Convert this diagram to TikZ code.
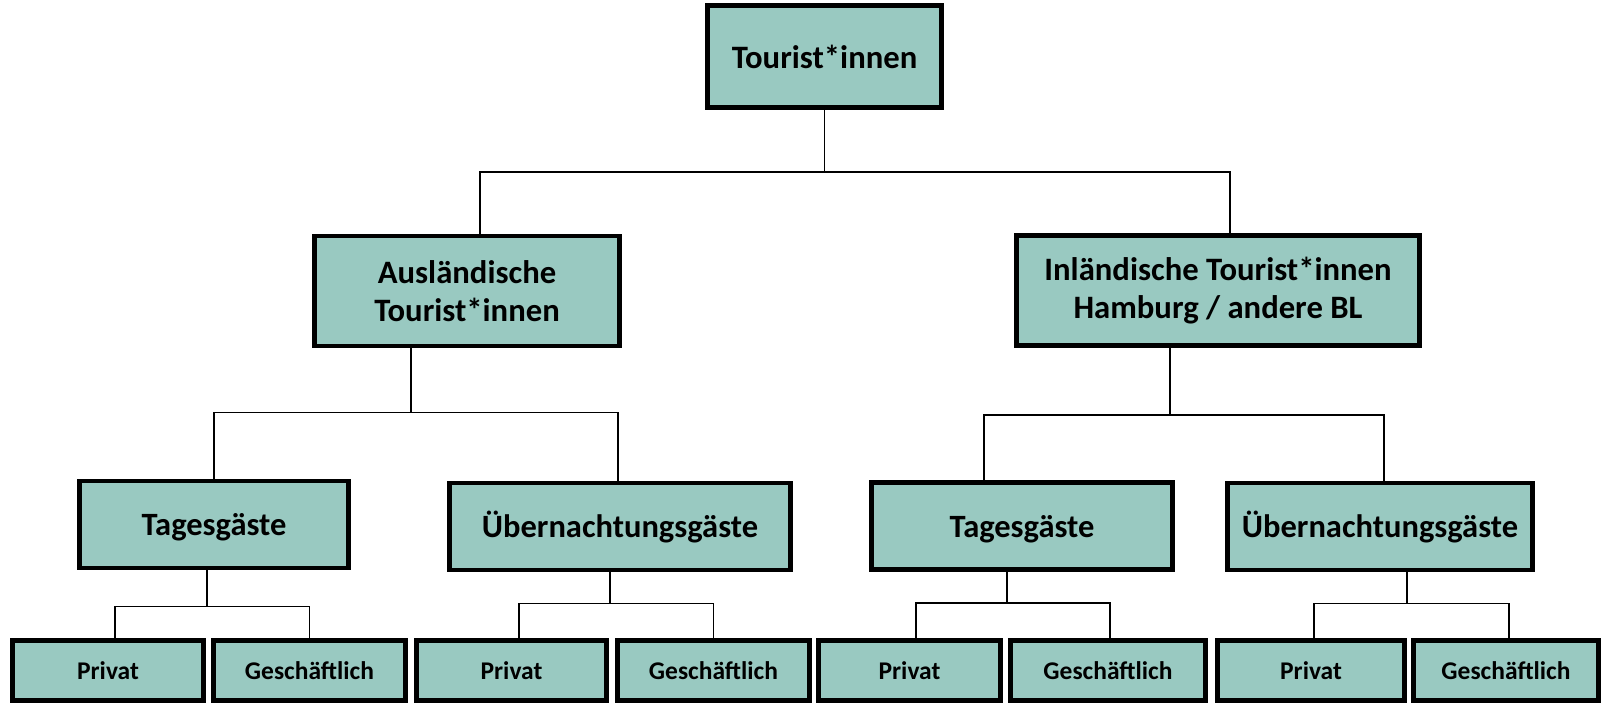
\documentclass[tikz,border=0pt]{standalone}
\usepackage{fontspec}
\setmainfont{Carlito}
\usetikzlibrary{calc}
\definecolor{boxfill}{RGB}{153,201,193}
\tikzset{
    treenode/.style={align=center, inner sep=1pt, text centered, draw=black, line width=2.8pt, fill=boxfill},
    rootbox/.style={treenode, text height=14pt, text depth=0.2pt, minimum height=2.04cm, font=\fontsize{18.6}{21.4}\selectfont\bfseries},
    group/.style={treenode, minimum height=2.2cm, font=\fontsize{18.6}{21.4}\selectfont\bfseries},
    kind/.style={treenode, text height=13pt, text depth=0.4pt, minimum height=1.74cm, font=\fontsize{18.5}{21}\selectfont\bfseries},
    leaf/.style={treenode, text height=11pt, text depth=0.6pt, minimum height=1.2cm, font=\fontsize{14.5}{17}\selectfont\bfseries}
}

\begin{document}
\begin{tikzpicture}[
  link/.style={draw, line width=0.85pt}]
\useasboundingbox (0,0) rectangle (32.02,-14.1);

\node[rootbox, minimum width=4.68cm] (root) at (16.49,-1.13) {Tourist*innen};

\node[group, minimum width=6.1cm] (ausl) at (9.34,-5.82) {Ausländische\\Tourist*innen};
\node[group, minimum width=8.06cm] (inl) at (24.36,-5.81) {Inländische Tourist*innen\\Hamburg / andere BL};

\node[kind, minimum width=5.38cm] (tagA) at (4.28,-10.49) {Tagesgäste};
\node[kind, minimum width=6.82cm] (uebA) at (12.4,-10.53) {Übernachtungsgäste};
\node[kind, minimum width=6.02cm] (tagI) at (20.44,-10.52) {Tagesgäste};
\node[kind, minimum width=6.1cm] (uebI) at (27.6,-10.53) {Übernachtungsgäste};

\node[leaf, minimum width=3.82cm] (pA1) at (2.16,-13.41) {Privat};
\node[leaf, minimum width=3.84cm] (gA1) at (6.19,-13.41) {Geschäftlich};
\node[leaf, minimum width=3.8cm] (pA2) at (10.23,-13.41) {Privat};
\node[leaf, minimum width=3.84cm] (gA2) at (14.27,-13.41) {Geschäftlich};
\node[leaf, minimum width=3.64cm] (pI1) at (18.19,-13.41) {Privat};
\node[leaf, minimum width=3.9cm] (gI1) at (22.16,-13.41) {Geschäftlich};
\node[leaf, minimum width=3.74cm] (pI2) at (26.22,-13.41) {Privat};
\node[leaf, minimum width=3.7cm] (gI2) at (30.12,-13.41) {Geschäftlich};

% first level
\draw[link] (root.south) -- ++(0,-1.24) -| ([xshift=0.26cm]ausl.north);
\draw[link] (root.south) -- ++(0,-1.24) -| ([xshift=0.24cm]inl.north);

% second level
\draw[link] ([xshift=-1.12cm]ausl.south) -- ++(0,-1.28) -| (tagA.north);
\draw[link] ([xshift=-1.12cm]ausl.south) -- ++(0,-1.28) -| ([xshift=-0.04cm]uebA.north);
\draw[link] ([xshift=-0.96cm]inl.south) -- ++(0,-1.34) -| ([xshift=-0.76cm]tagI.north);
\draw[link] ([xshift=-0.96cm]inl.south) -- ++(0,-1.34) -| ([xshift=0.08cm]uebI.north);

% third level
\draw[link] ([xshift=-0.14cm]tagA.south) -- ++(0,-0.72) -| ([xshift=0.14cm]pA1.north);
\draw[link] ([xshift=-0.14cm]tagA.south) -- ++(0,-0.72) -| (gA1.north);
\draw[link] ([xshift=-0.2cm]uebA.south) -- ++(0,-0.62) -| ([xshift=0.15cm]pA2.north);
\draw[link] ([xshift=-0.2cm]uebA.south) -- ++(0,-0.62) -| (gA2.north);
\draw[link] ([xshift=-0.3cm]tagI.south) -- ++(0,-0.62) -| ([xshift=0.13cm]pI1.north);
\draw[link] ([xshift=-0.3cm]tagI.south) -- ++(0,-0.62) -| ([xshift=0.04cm]gI1.north);
\draw[link] ([xshift=0.54cm]uebI.south) -- ++(0,-0.62) -| ([xshift=0.06cm]pI2.north);
\draw[link] ([xshift=0.54cm]uebI.south) -- ++(0,-0.62) -| ([xshift=0.06cm]gI2.north);

\end{tikzpicture}
\end{document}
